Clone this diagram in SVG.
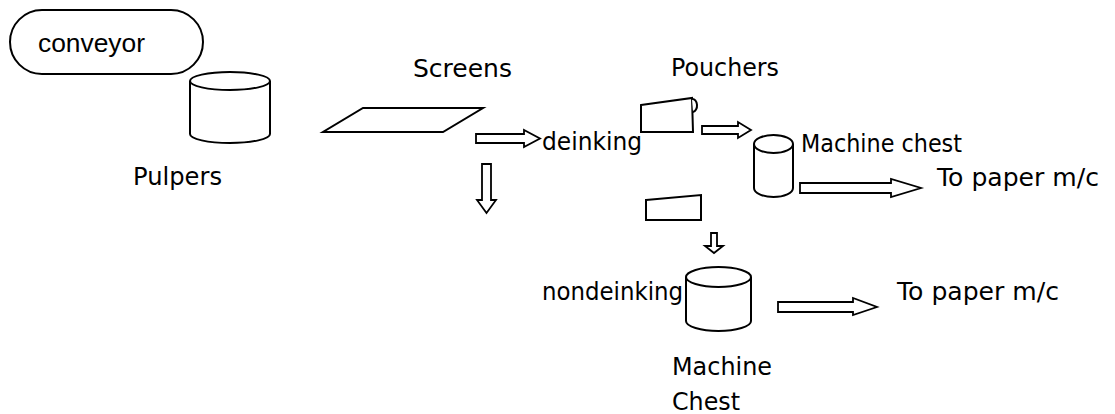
<svg xmlns="http://www.w3.org/2000/svg" width="1115" height="414" viewBox="0 0 1115 414">
  <style>
    .shape { fill: #ffffff; stroke: #000000; stroke-width: 2; stroke-linejoin: miter; }
    .arrow { fill: #ffffff; stroke: #000000; stroke-width: 1.8; stroke-linejoin: miter; }
    .lbl { font-family: "DejaVu Sans", "Liberation Sans", sans-serif; font-size: 24px; fill: #000000; }
    .sans { font-family: "Liberation Sans", Arial, sans-serif; font-size: 26px; fill: #000000; }
  </style>
  <rect width="1115" height="414" fill="#ffffff"/>

  <!-- conveyor belt feeding the pulpers -->
  <g id="conveyor">
    <rect class="shape" x="10" y="10" width="193" height="64" rx="32" ry="32"/>
    <text class="sans" x="38" y="52" textLength="107" lengthAdjust="spacingAndGlyphs">conveyor</text>
  </g>

  <!-- pulper tank -->
  <g id="pulpers">
    <path class="shape" d="M190,81 V134 A40,9 0 0 0 270,134 V81"/>
    <ellipse class="shape" cx="230" cy="81" rx="40" ry="9"/>
    <text class="lbl" x="133" y="185" textLength="89" lengthAdjust="spacingAndGlyphs">Pulpers</text>
  </g>

  <!-- screens -->
  <g id="screens">
    <polygon class="shape" points="363,108 483,108 443,132 323,132"/>
    <text class="lbl" x="413" y="77" textLength="99" lengthAdjust="spacingAndGlyphs">Screens</text>
  </g>

  <!-- deinking branch -->
  <g id="deinking">
    <text class="lbl" x="542" y="150" textLength="100" lengthAdjust="spacingAndGlyphs">deinking</text>
  </g>

  <!-- pouchers (deinking line) -->
  <g id="pouchers">
    <polygon class="shape" points="641,105 692,98 693,132 641,132"/>
    <path class="shape" fill="none" d="M692,99 A4.5,6.5 0 0 1 693,112"/>
    <text class="lbl" x="671" y="76" textLength="108" lengthAdjust="spacingAndGlyphs">Pouchers</text>
  </g>

  <!-- machine chest (deinking line) -->
  <g id="machine-chest">
    <path class="shape" d="M754,144 V188 A19.5,9 0 0 0 793,188 V144"/>
    <ellipse class="shape" cx="773.5" cy="144" rx="19.5" ry="9"/>
    <text class="lbl" x="801" y="152" textLength="161" lengthAdjust="spacingAndGlyphs">Machine chest</text>
  </g>

  <g id="paper-mc-1">
    <text class="lbl" x="937" y="186" textLength="162" lengthAdjust="spacingAndGlyphs">To paper m/c</text>
  </g>

  <!-- poucher (nondeinking line) -->
  <g id="pouchers-2">
    <polygon class="shape" points="646,200 701,195 701,220 646,220"/>
  </g>

  <!-- machine chest (nondeinking line) -->
  <g id="machine-chest-2">
    <path class="shape" d="M686,277 V321 A32.5,10 0 0 0 751,321 V277"/>
    <ellipse class="shape" cx="718.5" cy="277" rx="32.5" ry="10"/>
    <text class="lbl" x="542" y="300" textLength="141" lengthAdjust="spacingAndGlyphs">nondeinking</text>
    <text class="lbl" x="672" y="375" textLength="100" lengthAdjust="spacingAndGlyphs">Machine</text>
    <text class="lbl" x="672" y="410" textLength="68" lengthAdjust="spacingAndGlyphs">Chest</text>
  </g>

  <g id="paper-mc-2">
    <text class="lbl" x="897" y="300" textLength="162" lengthAdjust="spacingAndGlyphs">To paper m/c</text>
  </g>

  <!-- hollow block arrows -->
  <g id="connectors">
    <polygon class="arrow" points="476,134 524,134 524,130 540,138.5 524,147 524,143 476,143"/>
    <polygon class="arrow" points="482,164 491,164 491,200 496,200 486.5,213 477,200 482,200"/>
    <polygon class="arrow" points="702,126 738,126 738,122 751,130 738,138 738,134 702,134"/>
    <polygon class="arrow" points="800,183 891,183 891,179 921,188 891,197 891,193 800,193"/>
    <polygon class="arrow" points="711,233 717,233 717,246 723,246 714,253 705,246 711,246"/>
    <polygon class="arrow" points="778,302 853,302 853,298 877,307 853,315 853,312 778,312"/>
  </g>
</svg>
